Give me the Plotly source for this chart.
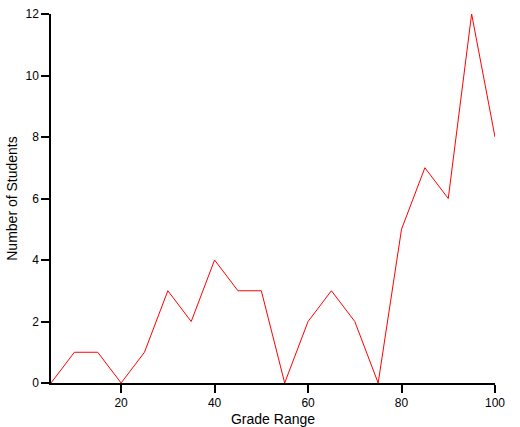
import plotly.graph_objects as go

grades = [5, 10, 15, 20, 25, 30, 35, 40, 45, 50, 55, 60, 65, 70, 75, 80, 85, 90, 95, 100]
students = [0, 1, 1, 0, 1, 3, 2, 4, 3, 3, 0, 2, 3, 2, 0, 5, 7, 6, 12, 8]
x_ticks = [20, 40, 60, 80, 100]
y_ticks = [0, 2, 4, 6, 8, 10, 12]

fig = go.Figure(go.Scatter(x=grades, y=students, mode="lines",
                           line=dict(color="red", width=1), cliponaxis=False,
                           hoverinfo="skip"))

fig.update_layout(
    width=520, height=427,
    margin=dict(l=51, r=25, t=14, b=44),
    plot_bgcolor="white", paper_bgcolor="white",
    font=dict(family="Liberation Sans, Arial, sans-serif", size=12, color="black"),
    showlegend=False,
)
fig.update_xaxes(range=[5, 100], tickvals=x_ticks, ticks="outside", ticklen=8,
                 tickwidth=1.5, tickcolor="black", showline=True, linecolor="black",
                 linewidth=1.5, showgrid=False, zeroline=False, automargin=False,
                 title=dict(text="Grade Range", standoff=7))
fig.update_yaxes(range=[0, 12], tickvals=y_ticks, ticks="outside", ticklen=8,
                 tickwidth=1.5, tickcolor="black", showline=True, linecolor="black",
                 linewidth=1.5, showgrid=False, zeroline=False, automargin=False,
                 title=dict(text="Number of Students", standoff=5))

fig.write_html("out.html", config={"displayModeBar": False},
               post_script="document.body.style.margin='0';")
